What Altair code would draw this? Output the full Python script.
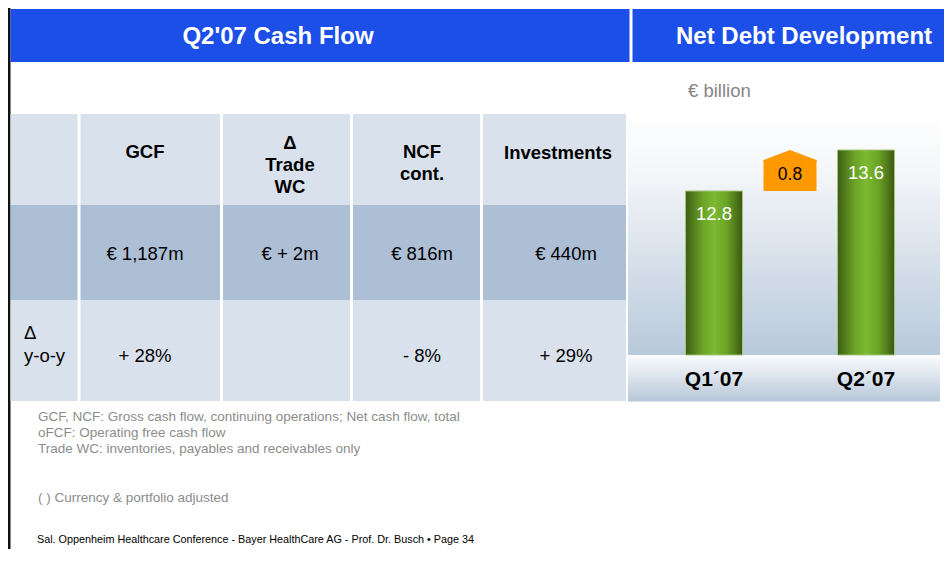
import altair as alt
import pandas as pd

# ---------------- data ----------------
title_left = "Q2'07 Cash Flow"
title_right = "Net Debt Development"
unit_label = "€ billion"
table_headers = ["GCF", "Δ\nTrade\nWC", "NCF\ncont.", "Investments"]
table_values = ["€ 1,187m", "€ + 2m", "€ 816m", "€ 440m"]
table_yoy = ["+ 28%", "", "- 8%", "+ 29%"]
yoy_row_label = ["Δ", "y-o-y"]
periods = ["Q1´07", "Q2´07"]
net_debt = [12.8, 13.6]
change_slot = "Δ"
change_from = 12.8
change_to = 13.6
change_label = "0.8"
axis_min = 9.6
footnotes = [
    "GCF, NCF: Gross cash flow, continuing operations; Net cash flow, total",
    "oFCF: Operating free cash flow",
    "Trade WC: inventories, payables and receivables only",
]
footnote_adj = "( ) Currency & portfolio adjusted"
footer = "Sal. Oppenheim Healthcare Conference - Bayer HealthCare AG - Prof. Dr. Busch • Page 34"

# ---------------- layout (page pixels) ----------------
FONT = "Liberation Sans"
BLUE = "#1c4fe8"
col_left = [10.5, 80.5, 223, 353, 483]
col_right = [77.5, 220, 350, 480, 626]
row_top = [114, 205, 300]
row_bottom = [205, 300, 401]
row_fill = ["#d9e2ec", "#adbfd4", "#d9e2ec"]
header_x = [145, 290, 422, 558]
header_first_y = [152, 143, 152, 153]
line_h = 22
value_x = [145, 290, 422, 566]
value_y = 254
yoy_y = 356

XS = alt.Scale(domain=[0, 952], range=[-8, 944], nice=False, zero=False)
YS = alt.Scale(domain=[0, 565], range=[-8, 557], nice=False, zero=False)


def rect_layer(df, **mark):
    return alt.Chart(df).mark_rect(**mark).encode(
        x=alt.X("x0:Q", scale=XS, axis=None),
        x2="x1:Q",
        y=alt.Y("y0:Q", scale=YS, axis=None),
        y2="y1:Q",
    )


def text_layer(df, size, weight="normal", color="#000000", align="center"):
    return alt.Chart(df).mark_text(
        font=FONT, fontSize=size, fontWeight=weight, color=color,
        align=align, baseline="middle"
    ).encode(
        x=alt.X("x:Q", scale=XS, axis=None),
        y=alt.Y("y:Q", scale=YS, axis=None),
        text="t:N",
    )


# solid rectangles
solid = [
    dict(x0=8, x1=10.5, y0=0, y1=565, fill="#111111"),
    dict(x0=10.5, x1=629.5, y0=9, y1=62, fill=BLUE),
    dict(x0=632.5, x1=952, y0=9, y1=62, fill=BLUE),
]
for r in range(3):
    for c in range(5):
        solid.append(dict(x0=col_left[c], x1=col_right[c], y0=row_top[r], y1=row_bottom[r], fill=row_fill[r]))
solid_df = pd.DataFrame(solid)
solid_rects = alt.Chart(solid_df).mark_rect().encode(
    x=alt.X("x0:Q", scale=XS, axis=None),
    x2="x1:Q",
    y=alt.Y("y0:Q", scale=YS, axis=None),
    y2="y1:Q",
    fill=alt.Fill("fill:N", scale=None),
)

panel_grad = alt.Gradient(
    gradient="linear", x1=0, x2=0, y1=0, y2=1,
    stops=[alt.GradientStop(color="#ffffff", offset=0),
           alt.GradientStop(color="#f4f6f9", offset=0.25),
           alt.GradientStop(color="#b8c9db", offset=1)],
)
band_grad = alt.Gradient(
    gradient="linear", x1=0, x2=0, y1=0, y2=1,
    stops=[alt.GradientStop(color="#fbfcfd", offset=0),
           alt.GradientStop(color="#b7c7d9", offset=1)],
)
panel = rect_layer(pd.DataFrame([dict(x0=628, x1=940, y0=113, y1=355)]), fill=panel_grad)
band = rect_layer(pd.DataFrame([dict(x0=628, x1=940, y0=355, y1=401.5)]), fill=band_grad)

titles = text_layer(pd.DataFrame([dict(x=278, y=37, t=title_left), dict(x=804, y=37, t=title_right)]),
                    24, "bold", "#ffffff")
unit = text_layer(pd.DataFrame([dict(x=688, y=91, t=unit_label)]), 18.5, color="#858585", align="left")

hdr_rows = []
for i, h in enumerate(table_headers):
    for j, line in enumerate(h.split("\n")):
        hdr_rows.append(dict(x=header_x[i], y=header_first_y[i] + j * line_h, t=line))
headers = text_layer(pd.DataFrame(hdr_rows), 18.5, "bold")

val_rows = [dict(x=value_x[i], y=value_y, t=v) for i, v in enumerate(table_values)]
val_rows += [dict(x=value_x[i], y=yoy_y, t=v) for i, v in enumerate(table_yoy) if v]
vals = text_layer(pd.DataFrame(val_rows), 18.5)
yoy_lbl = text_layer(pd.DataFrame([dict(x=24, y=333, t=yoy_row_label[0]),
                                   dict(x=24, y=356, t=yoy_row_label[1])]), 18.5, align="left")

notes = text_layer(pd.DataFrame([dict(x=38, y=417 + 16 * i, t=n) for i, n in enumerate(footnotes)]
                                + [dict(x=38, y=498, t=footnote_adj)]), 13.5, color="#8c8c8c", align="left")
foot = text_layer(pd.DataFrame([dict(x=37, y=540, t=footer)]), 10.8, align="left")

# ---------------- bar chart (own scales) ----------------
BX = alt.Scale(type="band", domain=[periods[0], change_slot, periods[1]], range=[668, 896],
               paddingInner=0, paddingOuter=0)
BY = alt.Scale(domain=[axis_min, 13.6], range=[347, 142], nice=False, zero=False)

green = alt.Gradient(
    gradient="linear", x1=0, x2=1, y1=0, y2=0,
    stops=[alt.GradientStop(color="#3d5d15", offset=0),
           alt.GradientStop(color="#6aa326", offset=0.3),
           alt.GradientStop(color="#7cba30", offset=0.5),
           alt.GradientStop(color="#6aa326", offset=0.72),
           alt.GradientStop(color="#3b5913", offset=1)],
)
bars_df = pd.DataFrame({"period": periods, "value": net_debt, "base": [axis_min] * len(periods)})
bx = alt.X("period:N", scale=BX, axis=None)
by = alt.Y("value:Q", scale=BY, axis=None)
bars = alt.Chart(bars_df).mark_bar(width=57, fill=green, stroke="#a5c47a", strokeWidth=1).encode(
    x=bx, y=by, y2="base:Q")
bar_lbl = alt.Chart(bars_df).mark_text(font=FONT, fontSize=18.5, color="#ffffff", dy=23).encode(
    x=bx, y=by, text=alt.Text("value:Q", format=".1f"))
per_lbl = alt.Chart(bars_df).mark_text(font=FONT, fontSize=21, fontWeight="bold", color="#000000", dy=25).encode(
    x=bx, y=alt.Y("base:Q", scale=BY, axis=None), text="period:N")

chg_df = pd.DataFrame({"slot": [change_slot], "start": [change_from], "end": [change_to], "label": [change_label]})
cx = alt.X("slot:N", scale=BX, axis=None)
orange_box = alt.Chart(chg_df).mark_bar(width=53, fill="#ff9900", y2Offset=10).encode(
    x=cx, y=alt.Y("start:Q", scale=BY, axis=None), y2="end:Q")
ROOF = "M-1,0.45L-1,0.377L0,0L1,0.377L1,0.45Z"
orange_roof = alt.Chart(chg_df).mark_point(shape=ROOF, size=53 * 53, filled=True, fill="#ff9900",
                                           opacity=1, strokeWidth=0).encode(
    x=cx, y=alt.Y("end:Q", scale=BY, axis=None))
orange_lbl = alt.Chart(chg_df).mark_text(font=FONT, fontSize=17.5, color="#000000", dy=-16).encode(
    x=cx, y=alt.Y("start:Q", scale=BY, axis=None), text="label:N")

chart = alt.layer(
    solid_rects, panel, band, titles, unit, headers, vals, yoy_lbl, notes, foot,
    bars, bar_lbl, per_lbl, orange_box, orange_roof, orange_lbl,
).resolve_scale(x="independent", y="independent").properties(
    width=936, height=541, padding=0, autosize=alt.AutoSizeParams(type="none"), background="#ffffff"
).configure_view(stroke=None)

chart.save("out.html", embed_options={"renderer": "svg", "actions": False})
